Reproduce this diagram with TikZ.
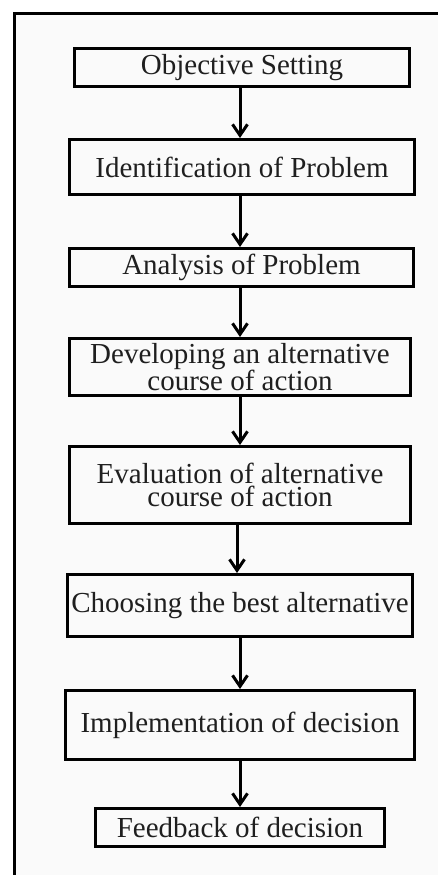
\documentclass[tikz,border=0pt]{standalone}
\usepackage{fontspec}
\setmainfont{Liberation Serif}
\usetikzlibrary{arrows.meta}
\begin{document}
\begin{tikzpicture}[x=1pt,y=-1pt,
  stepbox/.style={draw, line width=3pt, inner sep=0pt, align=center,
    font=\fontsize{29}{23}\selectfont, text=black!88},
  flow/.style={line width=3pt,
    -{Straight Barb[length=11pt,width=15pt]}},
  frame/.style={line width=3.3pt}]
  \useasboundingbox (0,0) rectangle (438,875);
  % framed panel, open towards the right and bottom
  \fill[black!2] (14.5,13.5) rectangle (445,880);
  \draw[frame] (14.5,880) -- (14.5,13.5) -- (445,13.5);

  % process steps
  \node[stepbox, minimum width=335pt, minimum height=38pt] (b1) at (242,67.5) {Objective Setting};
  \node[stepbox, minimum width=345pt, minimum height=55pt] (b2) at (242,167) {Identification of Problem};
  \node[stepbox, minimum width=344pt, minimum height=38pt] (b3) at (241.5,267.5) {Analysis of Problem};
  \node[stepbox, minimum width=341pt, minimum height=57pt] (b4) at (240,367) {Developing an alternative\\course of action};
  \node[stepbox, minimum width=341pt, minimum height=77pt] (b5) at (240,485) {Evaluation of alternative\\course of action};
  \node[stepbox, minimum width=345pt, minimum height=62pt] (b6) at (240,605.5) {Choosing the best alternative};
  \node[stepbox, minimum width=349pt, minimum height=69pt] (b7) at (240,725) {Implementation of decision};
  \node[stepbox, minimum width=289pt, minimum height=38pt] (b8) at (240,827.5) {Feedback of decision};

  % vertical axes for the connectors
  \coordinate (ax) at (240,0);
  \coordinate (axb) at (237,0);

  \draw[flow] (b1.south -| ax) -- (b2.north -| ax);
  \draw[flow] (b2.south -| ax) -- (b3.north -| ax);
  \draw[flow] (b3.south -| ax) -- (b4.north -| ax);
  \draw[flow] (b4.south -| ax) -- (b5.north -| ax);
  \draw[flow] (b5.south -| axb) -- (b6.north -| axb);
  \draw[flow] (b6.south -| ax) -- (b7.north -| ax);
  \draw[flow] (b7.south -| ax) -- (b8.north -| ax);
\end{tikzpicture}
\end{document}
